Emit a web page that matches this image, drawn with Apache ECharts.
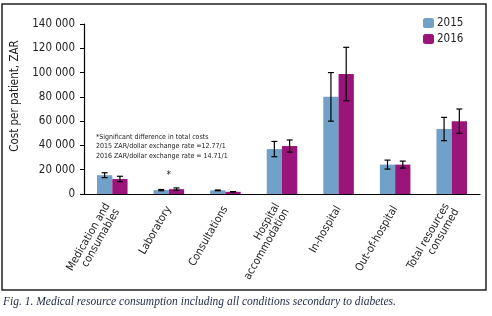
<!DOCTYPE html>
<html>
<head>
<meta charset="utf-8">
<script src="https://cdn.jsdelivr.net/npm/echarts@6/dist/echarts.min.js"></script>
<style>
  html, body { margin: 0; padding: 0; background: #fff; }
  #chart { width: 492px; height: 316px; }
</style>
</head>
<body>
<div id="chart"></div>
<script>
// data (ZAR per patient)
var categories = ['Medication and\nconsumables', 'Laboratory', 'Consultations', 'Hospital\naccommodation', 'In-hospital', 'Out-of-hospital', 'Total resources\nconsumed']
var cost2015 = [15500, 3200, 3000, 37000, 80000, 24200, 53500]
var err2015 = [2000, 500, 300, 6300, 20000, 3700, 9600]
var cost2016 = [12400, 4000, 1800, 39500, 98800, 24200, 60000]
var err2016 = [2200, 1000, 200, 5000, 22000, 2900, 10000]
var significant = ['', '*', '', '', '', '', '']
var yTicks = [0, 20000, 40000, 60000, 80000, 100000, 120000, 140000]
var notes = ['*Significant difference in total costs', '2015 ZAR/dollar exchange rate =12.77/1', '2016 ZAR/dollar exchange rate = 14.71/1']

var font = "'DejaVu Sans Condensed', 'Liberation Sans Narrow', sans-serif"
var catGap = 0.46

function fmt(v) {
  return String(v).replace(/\B(?=(\d{3})+(?!\d))/g, ' ')
}

function errData(vals, errs) {
  return vals.map(function (v, i) { return [i, v - errs[i], v + errs[i], v] })
}

// side = -1 for the left bar of the pair, +1 for the right one
function errorBar(side) {
  return function (params, api) {
    var i = api.value(0)
    var lo = api.coord([i, api.value(1)])
    var hi = api.coord([i, api.value(2)])
    var bw = api.size([1, 0])[0] * (1 - catGap) / 2
    var x = lo[0] + side * bw / 2
    var cap = 3
    var children = [
      { type: 'line', shape: { x1: x, y1: lo[1], x2: x, y2: hi[1] }, style: { stroke: '#000', lineWidth: 1.2 } },
      { type: 'line', shape: { x1: x - cap, y1: lo[1], x2: x + cap, y2: lo[1] }, style: { stroke: '#000', lineWidth: 1.2 } },
      { type: 'line', shape: { x1: x - cap, y1: hi[1], x2: x + cap, y2: hi[1] }, style: { stroke: '#000', lineWidth: 1.2 } }
    ]
    if (side > 0 && significant[i]) {
      children.push({
        type: 'text',
        style: { x: lo[0], y: hi[1] - 8, text: significant[i], fill: '#222', font: '10px ' + font, align: 'center', verticalAlign: 'bottom' }
      })
    }
    return { type: 'group', children: children }
  }
}

var chart = echarts.init(document.getElementById('chart'))
chart.setOption({
  animation: false,
  legend: {
    orient: 'vertical',
    left: 418,
    top: 12,
    itemWidth: 11,
    itemHeight: 10,
    itemGap: 4,
    textStyle: { fontFamily: font, fontSize: 11.5, color: '#222', padding: [0, 0, 0, -2] },
    data: ['2015', '2016']
  },
  grid: { left: 84, right: 12, top: 24, bottom: 122 },
  xAxis: {
    type: 'category',
    data: categories,
    axisLine: { lineStyle: { color: '#000', width: 1.2 } },
    axisTick: { show: false },
    axisLabel: {
      rotate: 60,
      interval: 0,
      margin: 13,
      fontFamily: font,
      fontSize: 11,
      lineHeight: 11,
      color: '#222',
      align: 'right'
    }
  },
  yAxis: {
    type: 'value',
    min: 0,
    max: 140000,
    interval: 20000,
    splitLine: { show: false },
    axisLine: { show: true, lineStyle: { color: '#000', width: 1.2 } },
    axisTick: { show: true, length: 4, lineStyle: { color: '#000' } },
    axisLabel: {
      fontFamily: font,
      fontSize: 11.5,
      color: '#222',
      margin: 9,
      formatter: function (v) { return yTicks.indexOf(v) >= 0 ? fmt(v) : '' }
    }
  },
  series: [
    {
      name: '2015',
      type: 'bar',
      data: cost2015,
      barGap: 0,
      barCategoryGap: (catGap * 100) + '%',
      itemStyle: { color: '#71a0c8' }
    },
    {
      name: '2016',
      type: 'bar',
      data: cost2016,
      barGap: 0,
      barCategoryGap: (catGap * 100) + '%',
      itemStyle: { color: '#9a1479' }
    },
    {
      type: 'custom',
      renderItem: errorBar(-1),
      data: errData(cost2015, err2015),
      encode: { x: 0, y: [1, 2] },
      z: 10
    },
    {
      type: 'custom',
      renderItem: errorBar(1),
      data: errData(cost2016, err2016),
      encode: { x: 0, y: [1, 2] },
      z: 10
    }
  ],
  graphic: [
    {
      type: 'rect',
      shape: { x: 2, y: 4, width: 484, height: 286 },
      style: { fill: 'none', stroke: '#222', lineWidth: 1.5 }
    },
    {
      type: 'text',
      x: 15,
      y: 96,
      rotation: Math.PI / 2,
      style: { text: 'Cost per patient, ZAR', font: '11.5px ' + font, fill: '#222', align: 'center', verticalAlign: 'middle' }
    },
    {
      type: 'text',
      x: 96,
      y: 132,
      style: { text: notes.join('\n'), font: '7px ' + font, lineHeight: 9.5, fill: '#222' }
    },
    {
      type: 'text',
      x: 3,
      y: 296,
      style: { text: 'Fig. 1. Medical resource consumption including all conditions secondary to diabetes.', font: 'italic 11.5px "Liberation Serif", serif', fill: '#1e2a44' }
    }
  ]
})
</script>
</body>
</html>
